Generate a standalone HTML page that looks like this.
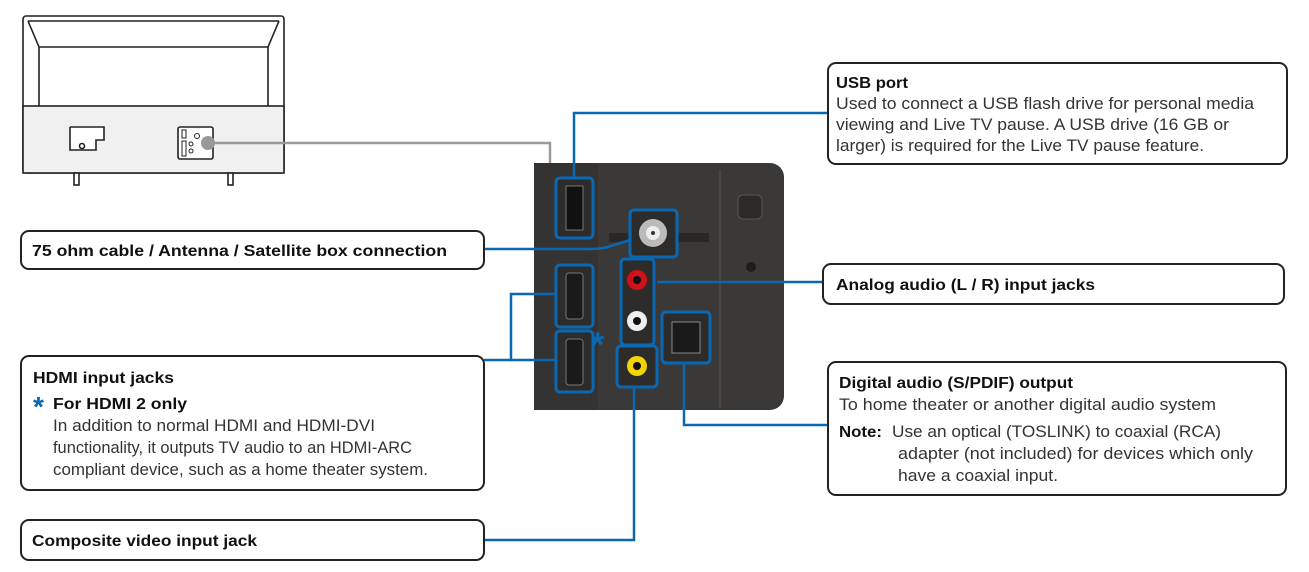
<!DOCTYPE html>
<html><head><meta charset="utf-8"><style>
body{margin:0;background:#fff;}
svg{display:block;}
text{font-family:"Liberation Sans",sans-serif;font-size:16.5px;fill:#333;}
.b{font-weight:bold;fill:#111;font-size:16px;}
</style></head><body>
<svg width="1309" height="572" viewBox="0 0 1309 572">
<!-- TV -->
<g stroke="#222" stroke-width="1.6" fill="#fff">
<rect x="23" y="16" width="261" height="157" rx="3" fill="#fff"/>
<rect x="23" y="106" width="261" height="67" fill="#f0f0f0"/>
<polyline points="28,21 39,47 39,106" fill="none"/>
<polyline points="279,21 268,47 268,106" fill="none"/>
<line x1="39" y1="47" x2="268" y2="47"/>
<line x1="28" y1="21" x2="279" y2="21"/>
<polyline points="70,127 104,127 104,140 96,140 96,150 70,150 70,127" fill="#fff"/>
<circle cx="82" cy="146" r="2.5"/>
<rect x="178" y="127" width="35" height="32" rx="2" fill="#fff"/>
<rect x="182" y="130" width="4" height="8" fill="none" stroke-width="1"/>
<rect x="182" y="141" width="4" height="15" fill="none" stroke-width="1"/>
<circle cx="197" cy="136" r="2.5" stroke-width="1"/>
<circle cx="191" cy="144" r="2" stroke-width="1"/>
<circle cx="191" cy="151" r="2" stroke-width="1"/>
<rect x="74" y="173" width="5" height="12" fill="#fff"/>
<rect x="228" y="173" width="5" height="12" fill="#fff"/>
</g>
<polyline points="208,143 550,143 550,163" fill="none" stroke="#9a9a9a" stroke-width="2.5"/>
<circle cx="208" cy="143" r="7" fill="#999"/>
<!-- panel -->
<rect x="534" y="163" width="250" height="247" rx="14" fill="#3b3937"/>
<rect x="534" y="163" width="64" height="247" fill="#353331"/>
<line x1="720" y1="170" x2="720" y2="408" stroke="#4a4745" stroke-width="2"/>
<rect x="738" y="195" width="24" height="24" rx="5" fill="#2c2a29" stroke="#555"/>
<circle cx="751" cy="267" r="5" fill="#1e1d1c"/>
<rect x="609" y="233" width="100" height="9" fill="#2a2827"/>
<!-- connectors -->
<g fill="none" stroke="#0a67b1" stroke-width="2.5">
<polyline points="574,178 574,113 828,113"/>
<path d="M630,240 L608,247 Q600,249 590,249 L484,249"/>
<polyline points="657,282 823,282"/>
<polyline points="556,294 511,294 511,360 484,360"/>
<polyline points="556,360 511,360"/>
<polyline points="634,387 634,540 484,540"/>
<polyline points="684,363 684,425 828,425"/>
</g>
<!-- ports -->
<g stroke="#0a67b1" stroke-width="3" fill="#2e2c2b">
<rect x="556" y="178" width="37" height="60" rx="4"/>
<rect x="630" y="210" width="47" height="47" rx="4"/>
<rect x="621" y="259" width="33" height="86" rx="4"/>
<rect x="556" y="265" width="37" height="62" rx="4"/>
<rect x="556" y="331" width="37" height="61" rx="4"/>
<rect x="617" y="346" width="40" height="41" rx="4"/>
<rect x="662" y="312" width="48" height="51" rx="4"/>
</g>
<rect x="566" y="186" width="17" height="44" fill="#111" stroke="#777"/>
<circle cx="653" cy="233" r="14" fill="#bbb"/><circle cx="653" cy="233" r="7" fill="#eee"/><circle cx="653" cy="233" r="2" fill="#333"/>
<circle cx="637" cy="280" r="10" fill="#d0101a"/><circle cx="637" cy="280" r="4" fill="#111"/>
<circle cx="637" cy="321" r="10" fill="#eee"/><circle cx="637" cy="321" r="4" fill="#111"/>
<circle cx="637" cy="366" r="10" fill="#f2d400"/><circle cx="637" cy="366" r="4" fill="#111"/>
<rect x="566" y="273" width="17" height="46" rx="3" fill="#1a1a1a" stroke="#777"/>
<rect x="566" y="339" width="17" height="46" rx="3" fill="#1a1a1a" stroke="#777"/>
<rect x="672" y="322" width="28" height="31" fill="#1a1a1a" stroke="#888"/>
<text x="591" y="356" style="font-size:34px;fill:#0a67b1;font-weight:bold">*</text>
<!-- boxes -->
<g fill="#fff" stroke="#222" stroke-width="2">
<rect x="828" y="63" width="459" height="101" rx="8"/>
<rect x="21" y="231" width="463" height="38" rx="8"/>
<rect x="823" y="264" width="461" height="40" rx="8"/>
<rect x="21" y="356" width="463" height="134" rx="8"/>
<rect x="828" y="362" width="458" height="133" rx="8"/>
<rect x="21" y="520" width="463" height="40" rx="8"/>
</g>
<g lengthAdjust="spacingAndGlyphs">
<text x="836" y="88" class="b" textLength="72" lengthAdjust="spacingAndGlyphs">USB port</text>
<text x="836" y="109" textLength="418" lengthAdjust="spacingAndGlyphs">Used to connect a USB flash drive for personal media</text>
<text x="836" y="130" textLength="393" lengthAdjust="spacingAndGlyphs">viewing and Live TV pause.   A USB drive (16 GB or</text>
<text x="836" y="151" textLength="368" lengthAdjust="spacingAndGlyphs">larger) is required for the Live TV pause feature.</text>
<text x="32" y="256" class="b" textLength="415" lengthAdjust="spacingAndGlyphs">75 ohm cable / Antenna / Satellite box connection</text>
<text x="836" y="290" class="b" textLength="259" lengthAdjust="spacingAndGlyphs">Analog audio (L / R) input jacks</text>
<text x="33" y="383" class="b" textLength="141" lengthAdjust="spacingAndGlyphs">HDMI input jacks</text>
<text x="33" y="416" style="font-size:28px;fill:#0a67b1;font-weight:bold">*</text>
<text x="53" y="409" class="b" textLength="134" lengthAdjust="spacingAndGlyphs">For HDMI 2 only</text>
<text x="53" y="431" textLength="322" lengthAdjust="spacingAndGlyphs">In addition to normal HDMI and HDMI-DVI</text>
<text x="53" y="453" textLength="359" lengthAdjust="spacingAndGlyphs">functionality, it outputs TV audio to an HDMI-ARC</text>
<text x="53" y="475" textLength="375" lengthAdjust="spacingAndGlyphs">compliant device, such as a home theater system.</text>
<text x="839" y="388" class="b" textLength="234" lengthAdjust="spacingAndGlyphs">Digital audio (S/PDIF) output</text>
<text x="839" y="410" textLength="377" lengthAdjust="spacingAndGlyphs">To home theater or another digital audio system</text>
<text x="839" y="437" class="b" textLength="43" lengthAdjust="spacingAndGlyphs">Note:</text>
<text x="892" y="437" textLength="329" lengthAdjust="spacingAndGlyphs">Use an optical (TOSLINK) to coaxial (RCA)</text>
<text x="898" y="459" textLength="355" lengthAdjust="spacingAndGlyphs">adapter (not included) for devices which only</text>
<text x="898" y="481" textLength="160" lengthAdjust="spacingAndGlyphs">have a coaxial input.</text>
<text x="32" y="546" class="b" textLength="225" lengthAdjust="spacingAndGlyphs">Composite video input jack</text>
</g>
</svg>
</body></html>
